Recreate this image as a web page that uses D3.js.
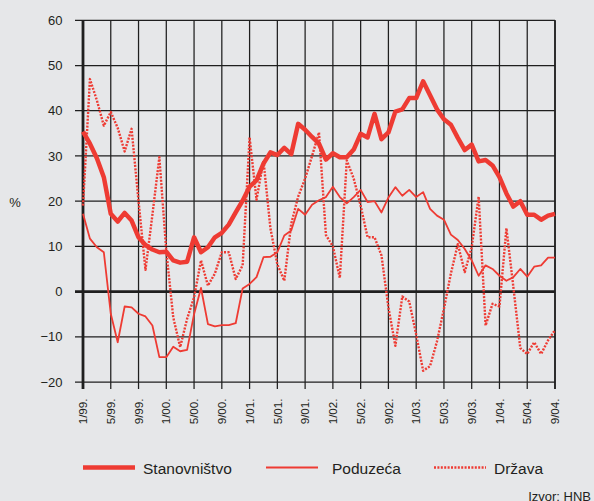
<!DOCTYPE html>
<html>
<head>
<meta charset="utf-8">
<script src="https://cdn.jsdelivr.net/npm/d3@7"></script>
<style>
  body { margin: 0; background: #e6e7e9; }
  svg { display: block; font-family: "Liberation Sans", Arial, Helvetica, sans-serif; }
</style>
</head>
<body>
<div id="chart"></div>
<script>
// Monthly data, 1/99. .. 9/04.
let tick_labels = ['1/99.','5/99.','9/99.','1/00.','5/00.','9/00.','1/01.','5/01.','9/01.',
    '1/02.','5/02.','9/02.','1/03.','5/03.','9/03.','1/04.','5/04.','9/04.'];

let y_ticks = [60, 50, 40, 30, 20, 10, 0, -10, -20];

let stanovnistvo = [35.4, 32.7, 29.5, 25.3, 17.2, 15.5, 17.4, 15.7, 12.0, 10.3, 9.3, 8.7,
    8.8, 6.9, 6.4, 6.6, 12.0, 8.7, 9.8, 12.0, 13.0, 14.8, 17.5, 20.1,
    23.2, 24.6, 28.3, 30.8, 30.2, 31.8, 30.4, 37.1, 35.8, 34.2, 32.7, 29.2,
    30.6, 29.7, 29.7, 31.4, 34.9, 34.1, 39.3, 33.7, 35.2, 39.8, 40.3, 42.8,
    42.8, 46.5, 43.4, 40.3, 38.1, 36.9, 34.0, 31.3, 32.5, 28.8, 29.1, 27.9,
    25.3, 21.7, 18.8, 20.0, 17.0, 17.0, 15.9, 16.8, 17.2];

let poduzeca = [17.2, 11.7, 9.8, 8.7, -4.9, -11.2, -3.3, -3.5, -4.9, -5.5, -7.5, -14.5,
    -14.5, -12.2, -13.2, -12.9, -5.0, 0.8, -7.2, -7.7, -7.4, -7.4, -7.0, 0.7,
    1.7, 3.2, 7.6, 7.7, 8.7, 12.4, 13.5, 18.3, 17.0, 19.2, 20.2, 20.9,
    23.2, 20.9, 19.5, 20.9, 22.5, 19.8, 20.0, 17.5, 20.8, 23.1, 21.2, 22.5,
    20.9, 22.0, 18.3, 16.8, 15.9, 12.6, 11.4, 9.4, 6.9, 3.5, 5.8, 5.0,
    3.5, 2.4, 3.2, 5.0, 3.3, 5.5, 5.8, 7.5, 7.5];

let drzava = [19.0, 47.0, 42.3, 36.7, 39.7, 36.2, 31.0, 36.0, 20.0, 4.8, 17.0, 29.7,
    9.0, -5.7, -12.3, -6.0, -1.3, 6.9, 1.3, 4.0, 8.7, 8.7, 2.8, 5.8,
    34.1, 20.3, 29.0, 14.0, 6.0, 2.4, 15.0, 21.0, 25.0, 30.0, 35.2, 12.5,
    10.0, 3.0, 29.0, 25.0, 19.0, 12.0, 12.0, 8.0, -3.5, -12.0, -1.1, -2.2,
    -9.5, -17.5, -16.5, -11.0, -3.8, 4.0, 10.5, 4.3, 9.8, 21.0, -7.5, -2.7,
    -3.3, 14.0, 1.0, -12.5, -13.8, -11.2, -13.8, -10.8, -8.5];

let series_names = ['Stanovništvo', 'Poduzeća', 'Država'];

//----------------------------------------
// SVG setup
let width = 594,
    height = 501;

let svg = d3.select('#chart').append('svg')
    .attr('width', width)
    .attr('height', height);

let red = '#ee3b33';
let grid = '#1f1f1f';

//----------------------------------------
// Scales
let x = d3.scaleLinear()
    .domain([0, stanovnistvo.length - 1])
    .range([83, 555]);

let y = d3.scaleLinear()
    .domain([-20, 60])
    .range([382, 20.3]);

//----------------------------------------
// Grid
// horizontal lines (with the small left ticks)
svg.selectAll('.hgrid')
    .data(y_ticks)
    .enter()
    .append('line')
    .attr('x1', 75)
    .attr('x2', 555)
    .attr('y1', d => y(d))
    .attr('y2', d => y(d))
    .style('stroke', grid)
    .style('stroke-width', d => d === 0 ? 2.6 : 1.25);

// vertical lines every 4 months (with the small bottom ticks)
let tick_idx = tick_labels.map((d, i) => i * 4);
svg.selectAll('.vgrid')
    .data(tick_idx)
    .enter()
    .append('line')
    .attr('x1', d => x(d))
    .attr('x2', d => x(d))
    .attr('y1', y(60))
    .attr('y2', y(-20) + 7)
    .style('stroke', grid)
    .style('stroke-width', d => d === 0 ? 2.8 : 1.25);

// right border
svg.append('line')
    .attr('x1', x(68)).attr('x2', x(68))
    .attr('y1', y(60)).attr('y2', y(-20) + 7)
    .style('stroke', grid)
    .style('stroke-width', 1.6);

//----------------------------------------
// Axis labels
svg.selectAll('.ylab')
    .data(y_ticks)
    .enter()
    .append('text')
    .attr('x', 62.5)
    .attr('y', d => y(d))
    .attr('dy', '0.36em')
    .attr('text-anchor', 'end')
    .style('font-size', '13px')
    .style('fill', '#231f20')
    .text(d => d < 0 ? '\u2212' + Math.abs(d) : d);

svg.append('text')
    .attr('x', 15)
    .attr('y', 207)
    .attr('text-anchor', 'middle')
    .style('font-size', '13px')
    .style('fill', '#231f20')
    .text('%');

svg.selectAll('.xlab')
    .data(tick_labels)
    .enter()
    .append('text')
    .attr('transform', (d, i) => 'translate(' + x(i * 4) + ',' + 398.5 + ') rotate(-90)')
    .attr('dy', '0.36em')
    .attr('text-anchor', 'end')
    .style('font-size', '11.6px')
    .style('fill', '#231f20')
    .text(d => d);

//----------------------------------------
// Lines
let line_gen = d3.line()
    .x((d, i) => x(i))
    .y(d => y(d));

let styles = [
    {data: stanovnistvo, width: 4.5, dash: null},
    {data: poduzeca, width: 1.8, dash: null},
    {data: drzava, width: 2.4, dash: '2,1.4'}
];

svg.selectAll('.series')
    .data(styles)
    .enter()
    .append('path')
    .attr('d', d => line_gen(d.data))
    .style('fill', 'none')
    .style('stroke', red)
    .style('stroke-width', d => d.width)
    .style('stroke-linejoin', 'round')
    .style('stroke-dasharray', d => d.dash);

//----------------------------------------
// Legend
let legend_x = [83, 266, 434];
let legend = svg.selectAll('.legend')
    .data(styles)
    .enter()
    .append('g')
    .attr('transform', (d, i) => 'translate(' + legend_x[i] + ',467.5)');

legend.append('line')
    .attr('x1', 0)
    .attr('x2', 52)
    .style('stroke', red)
    .style('stroke-width', d => d.width)
    .style('stroke-dasharray', d => d.dash);

legend.append('text')
    .attr('x', (d, i) => [60, 66, 60][i])
    .attr('y', 6.5)
    .style('font-size', '15.5px')
    .style('fill', '#231f20')
    .text((d, i) => series_names[i]);

svg.append('text')
    .attr('x', 591)
    .attr('y', 501)
    .attr('text-anchor', 'end')
    .style('font-size', '13px')
    .style('fill', '#231f20')
    .text('Izvor: HNB');
</script>
</body>
</html>
